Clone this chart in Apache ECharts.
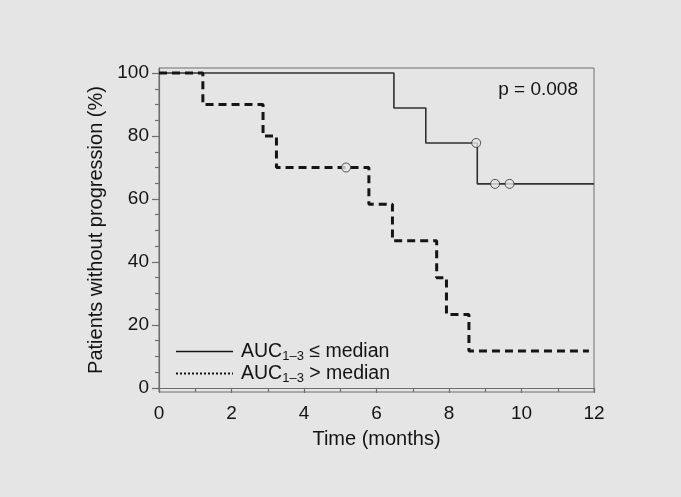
<!DOCTYPE html>
<html>
<head>
<meta charset="utf-8">
<script src="https://cdn.jsdelivr.net/npm/echarts@6/dist/echarts.min.js"></script>
<style>
html,body{margin:0;padding:0;background:#e5e5e5;}
#c{width:681px;height:497px;}
</style>
</head>
<body>
<div id="c"></div>
<script>
// ---- data ----
const lowTimes = [0, 6.48, 7.36, 8.78, 12];
const lowSurv = [100, 88.9, 77.8, 64.8, 64.8];
const lowCensorTimes = [8.75, 9.27, 9.67];
const lowCensorSurv = [77.8, 64.8, 64.8];
const highTimes = [0, 1.21, 2.87, 3.24, 5.79, 6.44, 7.66, 7.93, 8.55, 11.86];
const highSurv = [100, 90, 80, 70, 58.3, 46.7, 35, 23.3, 11.7, 11.7];
const highCensorTimes = [5.16];
const highCensorSurv = [70];
const yTicks = [0, 20, 40, 60, 80, 100];
const yMinorTicks = [5, 10, 15, 25, 30, 35, 45, 50, 55, 65, 70, 75, 85, 90, 95];
const seriesNames = ['low', 'high'];
const legendLabels = ['\u2264 median', '> median'];
const pText = 'p = 0.008';

const pair = (xs, ys) => xs.map((x, i) => [x, ys[i]]);
const FONT = "'Liberation Sans', Arial, sans-serif";
const axisGray = '#6e6e6e';
const ink = '#141414';

const chart = echarts.init(document.getElementById('c'));
chart.setOption({
  backgroundColor: '#e5e5e5',
  animation: false,
  textStyle: { fontFamily: FONT, color: ink },
  grid: { left: 159, right: 87, top: 68, bottom: 105, show: true, borderColor: axisGray, borderWidth: 1, backgroundColor: 'transparent' },
  xAxis: {
    type: 'value', min: 0, max: 12, interval: 2,
    name: 'Time (months)', nameLocation: 'middle', nameGap: 37,
    nameTextStyle: { fontSize: 20, color: ink, fontFamily: FONT },
    axisLine: { show: true, lineStyle: { color: axisGray, width: 1.2 } },
    axisTick: { show: true, length: 5, lineStyle: { color: axisGray, width: 1.2 } },
    minorTick: { show: true, splitNumber: 2, length: 4, lineStyle: { color: axisGray, width: 1.2 } },
    axisLabel: { fontSize: 19, color: ink, margin: 12, fontFamily: FONT },
    splitLine: { show: false }
  },
  yAxis: [{
    type: 'value', min: -1.3, max: 101.6,
    name: 'Patients without progression (%)', nameLocation: 'middle', nameGap: 52,
    nameTextStyle: { fontSize: 20, color: ink, fontFamily: FONT },
    axisLine: { show: true, lineStyle: { color: axisGray, width: 1.2 } },
    axisTick: { show: true, length: 7, customValues: yTicks, lineStyle: { color: axisGray, width: 1.2 } },
    axisLabel: { fontSize: 19, color: ink, margin: 10, customValues: yTicks, fontFamily: FONT },
    splitLine: { show: false }
  }, {
    type: 'value', min: -1.3, max: 101.6, position: 'left',
    axisLine: { show: false },
    axisTick: { show: true, length: 4, customValues: yMinorTicks, lineStyle: { color: axisGray, width: 1.2 } },
    axisLabel: { show: false },
    splitLine: { show: false }
  }],
  legend: {
    orient: 'vertical', left: 175, top: 340, padding: 0,
    itemWidth: 57, itemHeight: 14, itemGap: -1,
    itemStyle: { opacity: 0 },
    data: [
      { name: seriesNames[0], lineStyle: { type: 'solid', width: 1.6, color: ink } },
      { name: seriesNames[1], lineStyle: { type: [2, 2], width: 2, color: ink } }
    ],
    formatter: function (name) {
      const i = seriesNames.indexOf(name);
      return '{m|AUC}{s|1\u20133}{m| ' + legendLabels[i] + '}';
    },
    textStyle: {
      color: ink, fontFamily: FONT, padding: [0, 0, 0, 3],
      rich: {
        m: { fontSize: 19.5, lineHeight: 23, color: ink, fontFamily: FONT },
        s: { fontSize: 13, lineHeight: 13, padding: [10, 0, 0, 0], color: ink, fontFamily: FONT }
      }
    }
  },
  graphic: [{
    type: 'text', right: 103, top: 80,
    style: { text: pText, font: '19px ' + FONT, fill: ink }
  }],
  series: [{
    name: seriesNames[0], type: 'line', step: 'end', symbol: 'none', showSymbol: false,
    data: pair(lowTimes, lowSurv),
    lineStyle: { color: '#303030', width: 1.6, type: 'solid' }, itemStyle: { color: '#303030' },
    z: 3
  }, {
    name: seriesNames[1], type: 'line', step: 'end', symbol: 'none', showSymbol: false,
    data: pair(highTimes, highSurv),
    lineStyle: { color: '#151515', width: 3, type: [8, 5] }, itemStyle: { color: '#151515' },
    z: 3
  }, {
    name: 'censLow', type: 'scatter', symbol: 'circle', symbolSize: 9,
    data: pair(lowCensorTimes, lowCensorSurv),
    itemStyle: { color: '#e5e5e5', borderColor: '#303030', borderWidth: 1 }, z: 4
  }, {
    name: 'censHigh', type: 'scatter', symbol: 'circle', symbolSize: 9,
    data: pair(highCensorTimes, highCensorSurv),
    itemStyle: { color: '#e5e5e5', borderColor: '#303030', borderWidth: 1 }, z: 4
  }]
});
</script>
</body>
</html>
